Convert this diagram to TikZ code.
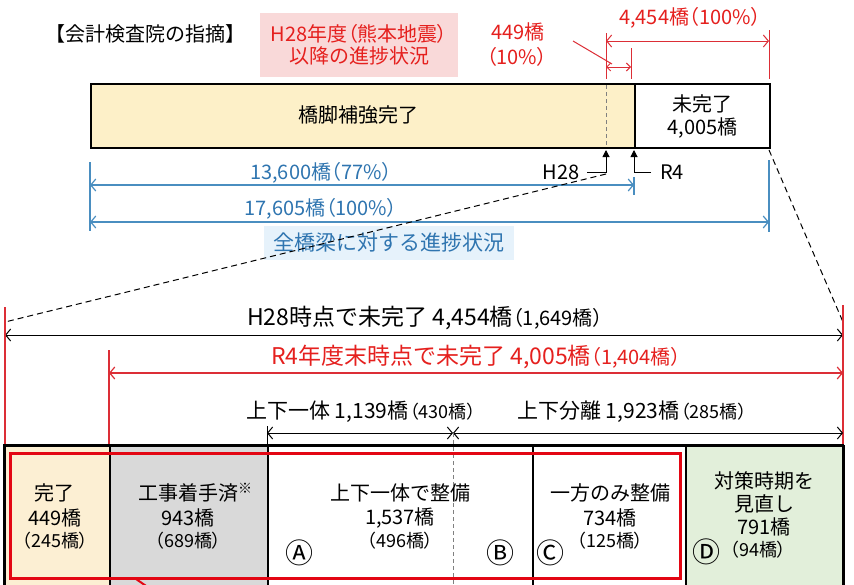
\documentclass[tikz,border=0pt]{standalone}
\usepackage{fontspec}
\setmainfont{Noto Sans CJK JP}
\newfontfamily\pfont{Noto Sans CJK JP}[RawFeature=+palt]
\usetikzlibrary{arrows.meta}
\definecolor{myred}{HTML}{E5201E}
\definecolor{lred}{HTML}{DC2E36}
\definecolor{boxred}{HTML}{E30613}
\definecolor{myblue}{HTML}{2F75B0}
\definecolor{lblue}{HTML}{4A8EC0}
\definecolor{bgblue}{HTML}{E6F2FB}
\definecolor{cream}{HTML}{FDF0C8}
\definecolor{creamb}{HTML}{FCEFD3}
\definecolor{pinkbg}{HTML}{F9D9D9}
\definecolor{cellgray}{HTML}{D9D9D9}
\definecolor{cellgreen}{HTML}{E2EFDA}
\newcommand\lp{{\pfont （}}
\newcommand\rp{{\pfont ）}}
\newcommand\fsz[1]{\fontsize{#1}{#1}\selectfont}
\tikzset{
  dimline/.style={{Straight Barb[length=5pt,width=12pt]}-{Straight Barb[length=5pt,width=12pt]}},
  smalldim/.style={{Straight Barb[length=4pt,width=8pt]}-{Straight Barb[length=4pt,width=8pt]}},
  uparrow/.style={-{Triangle[length=7pt,width=7pt]}},
  lbl/.style={inner sep=0pt, font=\fsz{20}},
  circ/.style={inner sep=0pt, font=\fsz{28}},
  barbox/.style={draw, line width=2.4pt, minimum height=64pt, anchor=north west, inner sep=0pt},
  cell/.style={draw, line width=1.6pt, minimum height=150pt, anchor=north west, inner sep=0pt},
  dashk/.style={dash pattern=on 6pt off 4pt, line width=1pt},
  dashg/.style={dash pattern=on 4pt off 3pt, gray, line width=0.8pt},
}
\begin{document}
\begin{tikzpicture}[x=1pt,y=-1pt]
\useasboundingbox (0,0) rectangle (854,584);
\fill[white] (0,0) rectangle (854,584);
\clip (0,0) rectangle (854,584);

% ---------- top part ----------
\node[lbl] (title) at (145,34) {【会計検査院の指摘】};
\node[fill=pinkbg, minimum width=198pt, minimum height=64pt, align=center,
      font=\fsz{20}, text=myred, inner sep=0pt] (pink) at (359,45)
      {H28年度\lp 熊本地震\rp\\[2pt]以降の進捗状況};
\node[lbl, text=myred] (n449) at (518,32) {449橋};
\node[lbl, text=myred] (p10) at (517,57) {\lp 10\%\rp};
\node[lbl, text=myred] (n4454) at (690,18) {4,454橋\lp 100\%\rp};

\node[barbox, fill=cream, minimum width=544pt] (done) at (90,83) {};
\node[barbox, fill=white, minimum width=135pt, align=center, font=\fsz{20}] (undone) at (634,83) {未完了\\[3pt]4,005橋};
\node[lbl] (donet) at (358,115) {橋脚補強完了};

\coordinate (h28top) at (606,85);
\coordinate (h28bot) at (606,145);
\draw[dashg] (h28top) -- (h28bot);

% red dimension at top
\coordinate (ra1) at (606,33);
\coordinate (ra2) at (606,79);
\coordinate (rb1) at (769,30);
\coordinate (rb2) at (769,79);
\coordinate (rc1) at (631,48);
\coordinate (rc2) at (631,79);
\draw[lred, line width=1pt] (ra1) -- (ra2);
\draw[lred, line width=1pt] (rb1) -- (rb2);
\draw[lred, line width=1pt] (rc1) -- (rc2);
\draw[lred, line width=1pt, dimline] (606,41) -- (769,41);
\draw[lred, line width=1pt, smalldim] (606,67) -- (631,67);
\coordinate (lead1) at (573,41);
\coordinate (lead2) at (612,64);
\draw[lred, line width=1pt] (lead1) -- (lead2);

% H28 / R4 markers
\node[lbl] (h28l) at (561,172) {H28};
\node[lbl] (r4l) at (672,172) {R4};
\coordinate (h28c) at (606,172);
\coordinate (r4c) at (634,172);
\draw[uparrow, line width=1pt] (587,172) -- (h28c) -- (606,150);
\draw[uparrow, line width=1pt] (651,172) -- (r4c) -- (634,150);

% blue dimensions
\draw[lblue, line width=1.2pt] (90,162) -- (90,231);
\draw[lblue, line width=1.2pt] (769,160) -- (769,232);
\draw[lblue, line width=1.2pt] (634,177) -- (634,195);
\draw[lblue, line width=1.2pt, dimline] (90,185) -- (634,185);
\draw[lblue, line width=1.2pt, dimline] (90,222) -- (769,222);
\node[lbl, text=myblue] (n13600) at (321,173) {13,600橋\lp 77\%\rp};
\node[lbl, text=myblue] (n17605) at (321,209) {17,605橋\lp 100\%\rp};
\node[fill=bgblue, minimum width=250pt, minimum height=34pt, inner sep=0pt,
      font=\fsz{21}, text=myblue] (allb) at (389,243) {全橋梁に対する進捗状況};

% dashed zoom lines
\coordinate (zl1) at (606,174);
\coordinate (zl2) at (5,322);
\coordinate (zr1) at (769,150);
\coordinate (zr2) at (843,322);
\draw[dashk] (zl1) -- (zl2);
\draw[dashk] (zr1) -- (zr2);

% ---------- lower part ----------
\node[inner sep=0pt, font=\fsz{23}] (h28t) at (425,318) {H28時点で未完了 4,454橋{\fsz{20}\lp 1,649橋\rp}};
\draw[line width=1pt, dimline] (5,335) -- (843,335);
\draw[lred, line width=1.2pt] (5,307) -- (5,445);
\draw[lred, line width=1.2pt] (843,305) -- (843,445);
\draw[lred, line width=1.2pt] (109,350) -- (109,445);
\node[inner sep=0pt, font=\fsz{23}, text=myred] (r4t) at (476,357) {R4年度末時点で未完了 4,005橋{\fsz{20}\lp 1,404橋\rp}};
\draw[lred, line width=1.2pt, dimline] (109,373) -- (843,373);

\node[lbl, font=\fsz{21}] (ittai) at (361,412) {上下一体 1,139橋\hspace{1.5pt}{\fsz{18}\lp 430橋\rp}};
\node[lbl, font=\fsz{21}] (bunri) at (632,412) {上下分離 1,923橋\hspace{1.5pt}{\fsz{18}\lp 285橋\rp}};
\draw[line width=1pt] (267,426) -- (267,445);
\draw[line width=1pt, dimline] (267,433) -- (453,433);
\draw[line width=1pt, dimline] (453,433) -- (843,433);

% cells
\node[cell, fill=creamb, minimum width=105pt] (c1) at (4,445) {};
\node[cell, fill=cellgray, minimum width=158pt] (c2) at (109,445) {};
\node[cell, fill=white, minimum width=265pt] (c3) at (267,445) {};
\node[cell, fill=white, minimum width=153pt] (c4) at (532,445) {};
\node[cell, fill=cellgreen, minimum width=158pt] (c5) at (685,445) {};
\draw[line width=2.4pt] (4,600) -- (4,445) -- (843,445) -- (843,600);
\draw[dashg] (453,433) -- (453,584);

\draw[boxred, line width=3pt] (10,453) rectangle (680,578);
\draw[boxred, line width=2pt] (136,579) -- (152,590);

% cell texts
\node[lbl] (t11) at (54,493) {完了};
\node[lbl] (t12) at (55,518) {449橋};
\node[lbl, font=\fsz{18}] (t13) at (55,541) {\lp 245橋\rp};

\node[lbl] (t21) at (195,493) {工事着手済\raisebox{7pt}{\fsz{14}※}};
\node[lbl] (t22) at (188,518) {943橋};
\node[lbl, font=\fsz{18}] (t23) at (188,541) {\lp 689橋\rp};

\node[lbl] (t31) at (400,493) {上下一体で整備};
\node[lbl] (t32) at (400,518) {1,537橋};
\node[lbl, font=\fsz{18}] (t33) at (400,541) {\lp 496橋\rp};
\node[circ] (ca) at (299,553) {Ⓐ};
\node[circ] (cb) at (500,553) {Ⓑ};

\node[lbl] (t41) at (610,493) {一方のみ整備};
\node[lbl] (t42) at (610,518) {734橋};
\node[lbl, font=\fsz{18}] (t43) at (610,541) {\lp 125橋\rp};
\node[circ] (cc) at (550,553) {Ⓒ};

\node[lbl] (t51) at (764,481) {対策時期を};
\node[lbl] (t52) at (764,504) {見直し};
\node[lbl] (t53) at (764,527) {791橋};
\node[lbl, font=\fsz{18}] (t54) at (758,550) {\lp 94橋\rp};
\node[circ] (cd) at (706,552) {Ⓓ};
\end{tikzpicture}
\end{document}
